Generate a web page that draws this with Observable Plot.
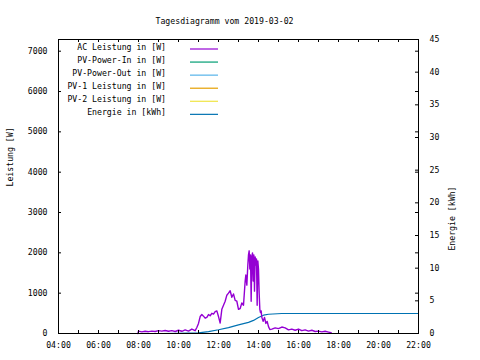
<!DOCTYPE html>
<html><head><meta charset="utf-8">
<script src="https://cdn.jsdelivr.net/npm/d3@7"></script>
<script src="https://cdn.jsdelivr.net/npm/@observablehq/plot@0.6"></script>
<style>body{margin:0;background:#fff}</style>
</head><body><div id="chart"></div>
<script>
const title = "Tagesdiagramm vom 2019-03-02";
const acTimes = ["07:58","08:00","08:10","08:20","08:30","08:40","08:50","09:00","09:10","09:20","09:30","09:40","09:50","10:00","10:10","10:20","10:30","10:40","10:50","10:55","11:00","11:05","11:10","11:15","11:20","11:25","11:30","11:35","11:40","11:45","11:50","11:55","12:00","12:05","12:10","12:15","12:20","12:25","12:30","12:35","12:40","12:45","12:50","12:55","13:00","13:05","13:10","13:15","13:20","13:22","13:25","13:28","13:30","13:32","13:34","13:36","13:38","13:40","13:42","13:44","13:46","13:48","13:50","13:52","13:54","13:56","13:58","14:00","14:02","14:04","14:06","14:08","14:10","14:14","14:18","14:22","14:26","14:30","14:34","14:40","14:50","15:00","15:10","15:20","15:30","15:40","15:50","16:00","16:10","16:20","16:30","16:40","16:50","17:00","17:10","17:20","17:30","17:38"];
const acWatts = [0,60,40,55,45,60,50,70,60,75,55,70,50,80,55,90,60,110,70,150,250,420,470,430,380,400,470,440,500,480,540,560,420,260,600,700,800,950,1000,1060,900,980,820,800,600,620,760,700,1300,1450,1200,1700,1950,2050,1600,1950,800,1900,2000,1300,1950,1050,1900,1700,1850,700,1800,1600,1000,600,520,560,400,300,400,250,300,170,100,110,140,120,160,140,90,110,80,110,70,90,60,80,50,60,40,55,35,20];
const eTimes = ["09:10","10:00","10:30","11:00","11:30","12:00","12:30","13:00","13:30","13:45","14:00","14:15","14:30","15:10","22:00"];
const eKWh = [0,0.03,0.05,0.1,0.3,0.57,0.9,1.33,1.7,2.0,2.45,2.8,2.95,3.06,3.06];
const hourTicks = [4,5,6,7,8,9,10,11,12,13,14,15,16,17,18,19,20,21,22];
const xLabelTicks = [4,6,8,10,12,14,16,18,20,22];
const wattTicks = [0,1000,2000,3000,4000,5000,6000,7000];
const kwhTicks = [0,5,10,15,20,25,30,35,40,45];
const legendLabels = ["AC Leistung in [W]","PV-Power-In in [W]","PV-Power-Out in [W]","PV-1 Leistung in [W]","PV-2 Leistung in [W]","Energie in [kWh]"];
const legendColors = ["#9400d3","#009e73","#56b4e9","#e69f00","#f0e442","#0072b2"];

const toH = t => { const [h, m] = t.split(":").map(Number); return h + m / 60; };
const WMAX = 7290, EMAX = 45, k = WMAX / EMAX;
const ac = acTimes.map((t, i) => ({x: toH(t), y: acWatts[i]}));
const en = eTimes.map((t, i) => ({x: toH(t), y: eKWh[i] * k}));
const fmtH = h => String(h).padStart(2, "0") + ":00";
const W = 480, H = 360, ML = 58, MR = 62, MT = 39, MB = 27;
const fw = W - ML - MR, fh = H - MT - MB;
const TK = 3;

const legend = (index, scales, values, dims) => {
  const g = d3.create("svg:g");
  legendLabels.forEach((lab, i) => {
    const y = dims.marginTop + 8 + i * 13.07;
    g.append("text").attr("x", dims.marginLeft + 108).attr("y", y)
      .attr("text-anchor", "end").attr("dy", "0.32em").attr("fill", "black").text(lab);
    g.append("line").attr("x1", dims.marginLeft + 132).attr("x2", dims.marginLeft + 160)
      .attr("y1", y + 2).attr("y2", y + 2).attr("stroke", legendColors[i]).attr("stroke-width", 1.2);
  });
  return g.node();
};

const chart = Plot.plot({
  width: W, height: H,
  marginLeft: ML, marginRight: MR, marginTop: MT, marginBottom: MB,
  style: {fontFamily: "'DejaVu Sans Mono', monospace", fontSize: "8.2px", background: "white", color: "black"},
  x: {domain: [4, 22], axis: null},
  y: {domain: [0, WMAX], axis: null},
  marks: [
    Plot.line(en, {x: "x", y: "y", stroke: "#0072b2", strokeWidth: 1.2}),
    Plot.line(ac, {x: "x", y: "y", stroke: "#9400d3", strokeWidth: 1.4}),
    Plot.frame({stroke: "black"}),
    Plot.tickY(wattTicks, {y: d => d, insetRight: fw - TK, stroke: "black"}),
    Plot.tickY(wattTicks, {y: d => d, insetLeft: fw - TK, stroke: "black"}),
    Plot.tickY(kwhTicks.map(v => v * k), {y: d => d, insetLeft: fw - TK, stroke: "black"}),
    Plot.tickX(hourTicks, {x: d => d, insetTop: fh - TK, stroke: "black"}),
    Plot.tickX(hourTicks, {x: d => d, insetBottom: fh - TK, stroke: "black"}),
    Plot.axisY({anchor: "left", ticks: wattTicks, tickFormat: d => String(d), tickSize: 0, tickPadding: 11, label: null}),
    Plot.axisY({anchor: "right", ticks: kwhTicks.map(v => v * k), tickFormat: d => String(Math.round(d / k)), tickSize: 0, tickPadding: 11, label: null}),
    Plot.axisX({anchor: "bottom", ticks: xLabelTicks, tickFormat: fmtH, tickSize: 0, tickPadding: 9, label: null}),
    Plot.text(["Leistung [W]"], {frameAnchor: "left", dx: -48, rotate: -90, text: d => d, fill: "black"}),
    Plot.text(["Energie [kWh]"], {frameAnchor: "right", dx: 34, rotate: -90, text: d => d, fill: "black"}),
    Plot.text([title], {frameAnchor: "top", dy: -21, dx: -14, text: d => d, fill: "black"}),
    legend
  ]
});
document.getElementById("chart").appendChild(chart);
</script>
</body></html>
